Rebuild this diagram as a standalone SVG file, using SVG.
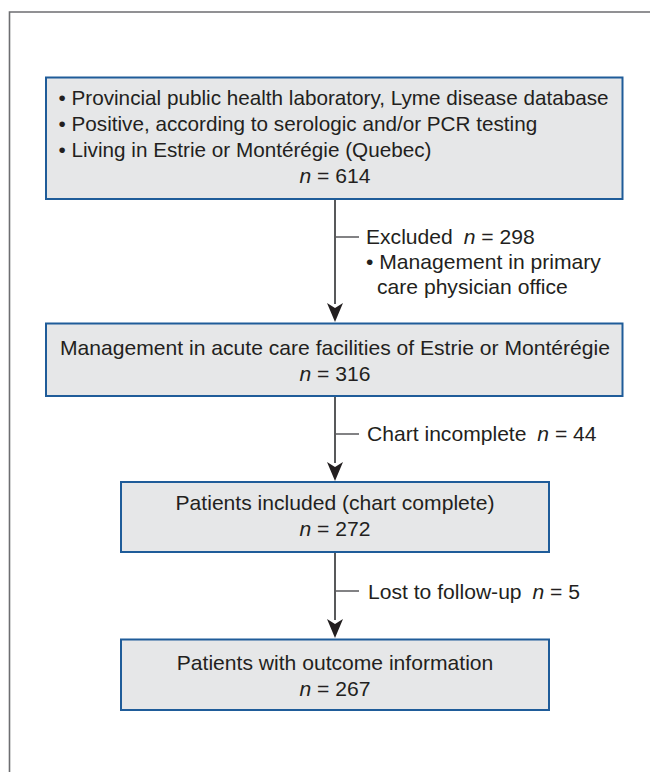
<svg xmlns="http://www.w3.org/2000/svg" width="650" height="772" viewBox="0 0 650 772">
<defs>
<style>
.frame{fill:none;stroke:#6d6e71;stroke-width:1.6}
.box{fill:#e6e7e8;stroke:#1f5c99;stroke-width:2}
.t{font-family:"Liberation Sans",Arial,Helvetica,sans-serif;font-size:21.1px;fill:#231f20}
.b{font-size:20.7px}
.c{text-anchor:middle}
.i{font-style:italic}
.conn{stroke:#58595b;stroke-width:2;fill:none}
.tick{stroke:#58595b;stroke-width:1.5;fill:none}
.ah{fill:#231f20}
</style>
</defs>
<rect width="650" height="772" fill="#ffffff"/>
<path class="frame" d="M9.5,780 V12 H660"/>

<g id="connectors">
<line class="conn" x1="335" y1="200" x2="335" y2="304"/>
<path class="ah" d="M327,303 L335,308 L343,303 L335,322 Z"/>
<line class="tick" x1="335" y1="237" x2="359" y2="237"/>
<line class="conn" x1="335" y1="397" x2="335" y2="463"/>
<path class="ah" d="M327,462 L335,467 L343,462 L335,481 Z"/>
<line class="tick" x1="335" y1="434" x2="359" y2="434"/>
<line class="conn" x1="335" y1="553" x2="335" y2="620"/>
<path class="ah" d="M327,619 L335,624 L343,619 L335,638 Z"/>
<line class="tick" x1="335" y1="591" x2="359" y2="591"/>
</g>

<g id="node-source">
<rect class="box" x="46" y="77.5" width="576.5" height="121.5"/>
<text class="t b" x="58.5" y="105.3">• Provincial public health laboratory, Lyme disease database</text>
<text class="t b" x="58.5" y="131.3">• Positive, according to serologic and/or PCR testing</text>
<text class="t b" x="58.5" y="157.3">• Living in Estrie or Montérégie (Quebec)</text>
<text class="t c" x="335" y="183.3"><tspan class="i">n</tspan> = 614</text>
</g>

<g id="label-excluded">
<text class="t" x="366" y="243.5">Excluded <tspan dx="5" class="i">n</tspan> = 298</text>
<text class="t" x="366" y="268.5">• Management in primary</text>
<text class="t" x="377" y="294">care physician office</text>
</g>

<g id="node-acute">
<rect class="box" x="46" y="323.5" width="576.5" height="72.5"/>
<text class="t c" x="335" y="355">Management in acute care facilities of Estrie or Montérégie</text>
<text class="t c" x="335" y="381"><tspan class="i">n</tspan> = 316</text>
</g>

<g id="label-chart">
<text class="t" x="367" y="440.5">Chart incomplete <tspan dx="5" class="i">n</tspan> = 44</text>
</g>

<g id="node-included">
<rect class="box" x="121" y="482" width="428" height="70"/>
<text class="t c" x="335" y="509.5">Patients included (chart complete)</text>
<text class="t c" x="335" y="535.5"><tspan class="i">n</tspan> = 272</text>
</g>

<g id="label-lost">
<text class="t" x="368" y="598.5">Lost to follow-up <tspan dx="5" class="i">n</tspan> = 5</text>
</g>

<g id="node-outcome">
<rect class="box" x="121" y="639.5" width="428" height="70.5"/>
<text class="t c" x="335" y="669.5">Patients with outcome information</text>
<text class="t c" x="335" y="695.5"><tspan class="i">n</tspan> = 267</text>
</g>
</svg>
